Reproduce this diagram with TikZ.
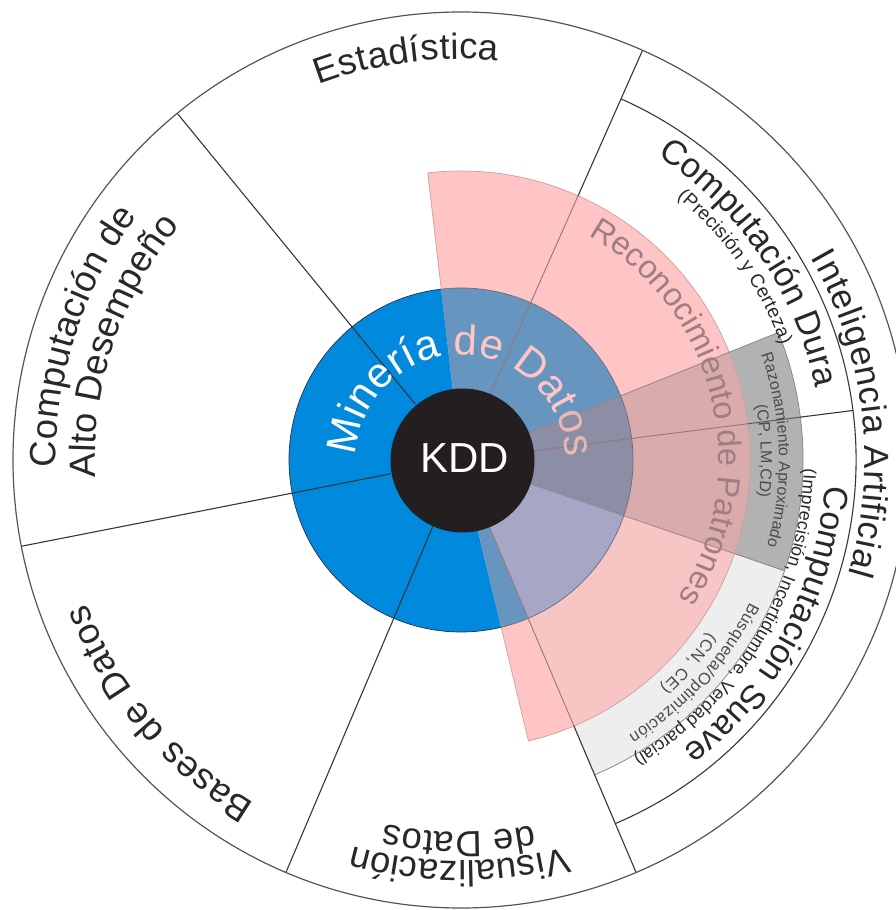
\documentclass[tikz,border=0pt]{standalone}
\usepackage{fontspec}
\setmainfont{Liberation Sans}
\usetikzlibrary{decorations.text}

\definecolor{ringblue}{RGB}{0,137,221}
\definecolor{ringsteel}{RGB}{102,150,192}
\definecolor{ringslate}{RGB}{140,142,166}
\definecolor{ringlav}{RGB}{166,166,198}
\definecolor{patpink}{RGB}{255,196,196}
\definecolor{patpinkb}{RGB}{248,197,197}
\definecolor{patpinkd}{RGB}{218,171,171}
\definecolor{razgray}{RGB}{178,178,178}
\definecolor{busgray}{RGB}{238,238,238}
\definecolor{coreblack}{RGB}{35,31,32}
\definecolor{ink}{RGB}{40,40,40}
\definecolor{ruleink}{RGB}{55,55,55}
\definecolor{softink}{RGB}{150,118,120}
\definecolor{pattext}{RGB}{158,126,128}
\definecolor{smallink}{RGB}{75,75,75}
\definecolor{minpink}{RGB}{255,196,196}
\definecolor{minpinkd}{RGB}{236,182,180}
\definecolor{pinkedge}{RGB}{205,160,160}
\definecolor{bandedge}{RGB}{130,130,130}
\definecolor{bandsplit}{RGB}{120,120,120}
\definecolor{wedgeedge}{RGB}{140,128,138}
\definecolor{rimdark}{RGB}{40,50,70}
\definecolor{rimsoft}{RGB}{110,105,125}
\definecolor{bandrule}{RGB}{90,90,90}

% filled circular sector: colour, start angle, end angle, radius
\newcommand\wedgefill[4]{\fill[#1] (0,0) -- (#2:#4) arc[start angle=#2,end angle=#3,radius=#4] -- cycle;}
% text set along a clockwise arc: radius, start angle, end angle, text
\newcommand\arclabel[4]{\path[decorate,decoration={text along path,text align={fit to path},text={#4}}]
  (#2:#1) arc[start angle=#2,end angle=#3,radius=#1];}
\newcommand\minfont{\fontsize{42}{46}\selectfont}

\begin{document}
\begin{tikzpicture}[x=1pt,y=1pt,
  rulel/.style={draw=ruleink,line width=1.1pt},
  softl/.style={draw=softink,line width=0.9pt},
  edgel/.style={draw=#1,line width=0.7pt}]
\useasboundingbox (-461,-450) rectangle (434,460);
\fill[white] (-461,-450) rectangle (434,460);

% Minería de Datos ring
\fill[ringblue] (0,0) circle[radius=172];

% Reconocimiento de Patrones wedge
\wedgefill{patpink}{-76.5}{96.6}{289}
\wedgefill{ringsteel}{-76.5}{96.6}{172}

% Razonamiento Aproximado wedge
\wedgefill{razgray}{-18.9}{21.9}{342}
\wedgefill{patpinkd}{-18.9}{21.9}{289}
\wedgefill{ringslate}{-18.9}{21.9}{172}

% Búsqueda/Optimización wedge
\wedgefill{busgray}{-67}{-18.9}{342}
\wedgefill{patpinkb}{-67}{-18.9}{289}
\wedgefill{ringlav}{-67}{-18.9}{172}

% outlines of the overlapping wedges
\draw[edgel=pinkedge] (-76.5:172) -- (-76.5:289) arc[start angle=-76.5,end angle=96.6,radius=289] -- (96.6:172);
\draw[edgel=bandedge] (21.9:289) -- (21.9:342) arc[start angle=21.9,end angle=-67,radius=342];
\draw[edgel=bandsplit] (-18.9:289) -- (-18.9:342);
\draw[edgel=wedgeedge] (21.9:72) -- (21.9:289);
\draw[edgel=wedgeedge] (-18.9:72) -- (-18.9:289);

% rim of the blue ring
\draw[edgel=rimdark] (96.6:172) arc[start angle=96.6,end angle=283.5,radius=172];
\draw[edgel=rimsoft] (-76.5:172) arc[start angle=-76.5,end angle=96.6,radius=172];

% sector boundaries
\draw[rulel] (129.3:72) -- (129.3:448);
\draw[rulel] (191.1:72) -- (191.1:448);
\draw[rulel] (247:72) -- (247:448);
\draw[softl] (-67:72) -- (-67:289);
\draw[rulel] (-67:289) -- (-67:448);
\draw[softl] (66.1:72) -- (66.1:289);
\draw[rulel] (66.1:289) -- (66.1:448);
\draw[softl] (7.2:72) -- (7.2:289);
\draw[draw=bandrule,line width=1pt] (7.2:289) -- (7.2:342);
\draw[rulel] (7.2:342) -- (7.2:395);

% outer rings
\draw[draw=ruleink!85,line width=1.2pt] (0,0) circle[radius=448];
\draw[rulel] (-67:395) arc[start angle=-67,end angle=66.1,radius=395];

% KDD core
\fill[coreblack] (1.5,-0.5) circle[radius=72];
\node[text=white,font=\fontsize{42}{46}\selectfont,inner sep=0pt] (kdd) at (4,2) {KDD};

% outer labels
\arclabel{401}{110.8}{84.7}{|\fontsize{36.5}{40}\selectfont\color{ink}|Estadística}
\arclabel{405}{181}{143}{|\fontsize{36.5}{40}\selectfont\color{ink}|Computación de}
\arclabel{366}{182.7}{140.2}{|\fontsize{36.5}{40}\selectfont\color{ink}|Alto Desempeño}
\arclabel{401}{239}{201}{|\fontsize{36.5}{40}\selectfont\color{ink}|Bases de Datos}
\arclabel{401}{285.2}{254.3}{|\fontsize{36.5}{40}\selectfont\color{ink}|Visualización}
\arclabel{372}{281.2}{258.2}{|\fontsize{36.5}{40}\selectfont\color{ink}|de Datos}
\arclabel{404}{30}{-16.4}{|\fontsize{35}{38}\selectfont\color{ink}|Inteligencia Artificial}

% hard and soft computing
\arclabel{362}{57.2}{11.5}{|\fontsize{34.5}{38}\selectfont\color{ink}|Computación Dura}
\arclabel{340}{50.6}{19.7}{|\fontsize{19}{21}\selectfont\color{ink}|(Precisión y Certeza)}
\arclabel{365}{-4}{-52.5}{|\fontsize{34}{38}\selectfont\color{ink}|Computación Suave}
\arclabel{343}{-1.5}{-59.8}{|\fontsize{17.8}{20}\selectfont\color{ink}|(Imprecisión, Incertidumbre, Verdad parcial)}

% inner bands
\arclabel{318}{19.3}{-15.7}{|\fontsize{16}{18}\selectfont\color{smallink}|Razonamiento Aproximado}
\arclabel{300}{10.5}{-7.1}{|\fontsize{16}{18}\selectfont\color{smallink}|(CP, LM,CD)}
\arclabel{322}{-26.2}{-58.6}{|\fontsize{16.5}{18}\selectfont\color{smallink}|Búsqueda/Optimización}
\arclabel{302}{-34.8}{-48.8}{|\fontsize{16.5}{18}\selectfont\color{smallink}|(CN, CE)}

\arclabel{258}{60.5}{-32.5}{|\fontsize{32.5}{36}\selectfont\color{pattext}|Reconocimiento de Patrones}
\arclabel{105}{177.5}{1.5}{|\minfont\color{white}|Minería |\minfont\color{minpink}|de Dat|\minfont\color{minpinkd}|os}
\end{tikzpicture}
\end{document}
